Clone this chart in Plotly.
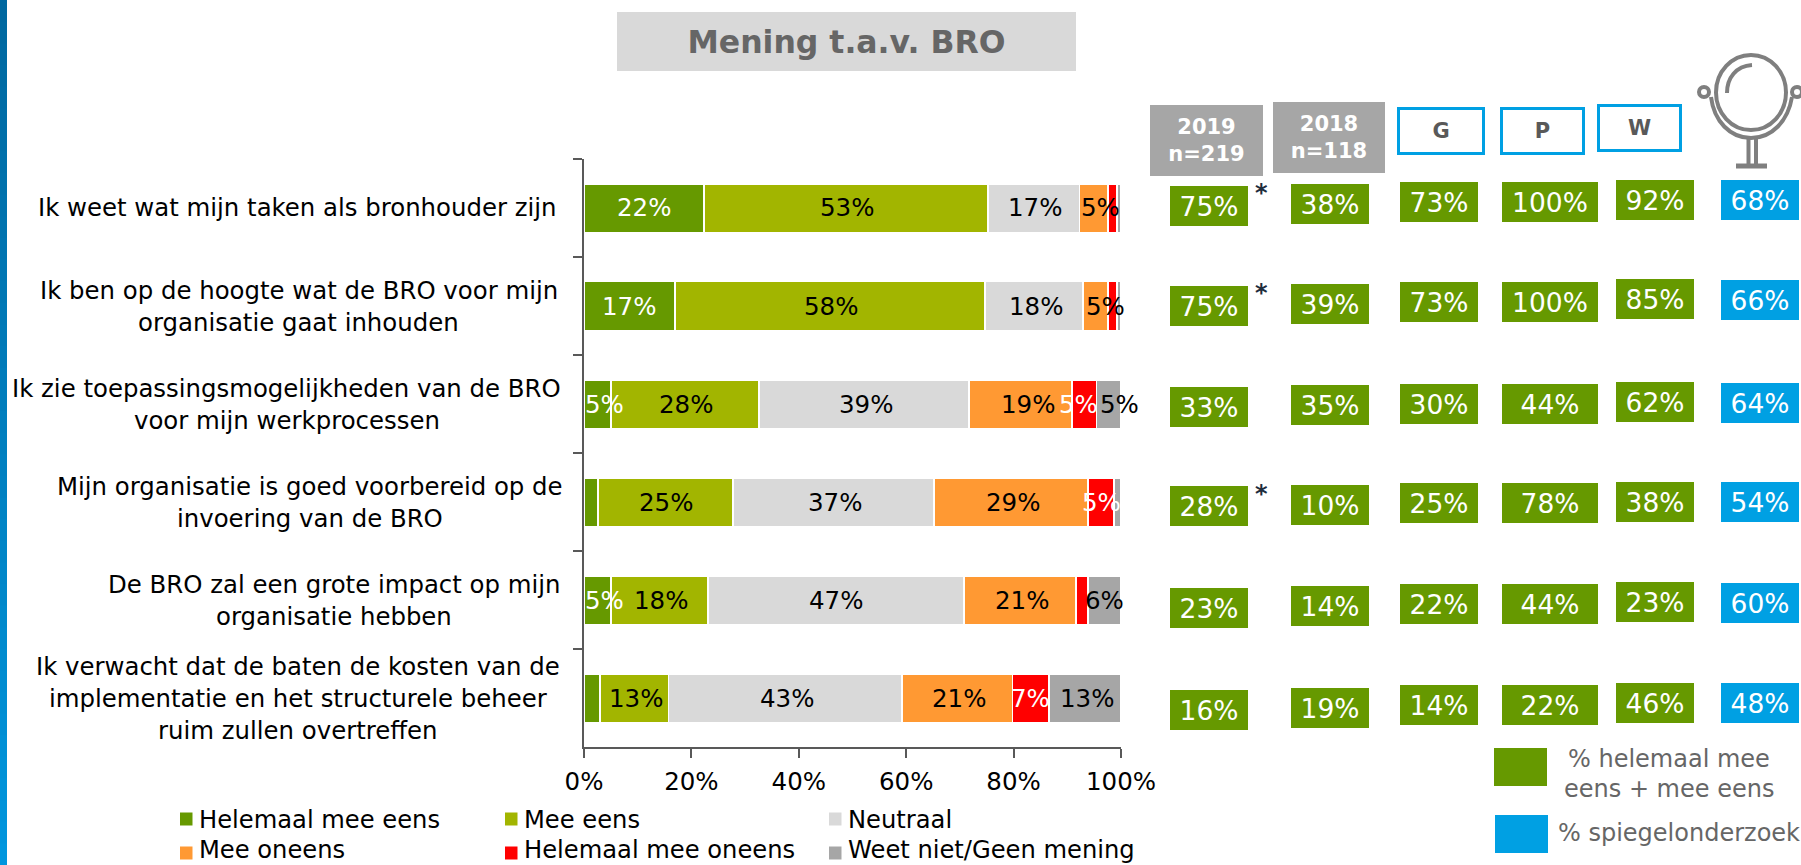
import plotly.graph_objects as go

W, H = 1801, 865
FONT = "DejaVu Sans"

title = "Mening t.a.v. BRO"
categories = [
    "Ik weet wat mijn taken als bronhouder zijn",
    "Ik ben op de hoogte wat de BRO voor mijn organisatie gaat inhouden",
    "Ik zie toepassingsmogelijkheden van de BRO voor mijn werkprocessen",
    "Mijn organisatie is goed voorbereid op de invoering van de BRO",
    "De BRO zal een grote impact op mijn organisatie hebben",
    "Ik verwacht dat de baten de kosten van de implementatie en het structurele beheer ruim zullen overtreffen",
]
category_lines = [
    ["Ik weet wat mijn taken als bronhouder zijn"],
    ["Ik ben op de hoogte wat de BRO voor mijn", "organisatie gaat inhouden"],
    ["Ik zie toepassingsmogelijkheden van de BRO", "voor mijn werkprocessen"],
    ["Mijn organisatie is goed voorbereid op de", "invoering van de BRO"],
    ["De BRO zal een grote impact op mijn", "organisatie hebben"],
    ["Ik verwacht dat de baten de kosten van de", "implementatie en het structurele beheer", "ruim zullen overtreffen"],
]
series_names = ["Helemaal mee eens", "Mee eens", "Neutraal", "Mee oneens", "Helemaal mee oneens", "Weet niet/Geen mening"]
helemaal_mee_eens = [22.3, 16.9, 5.0, 2.6, 5.0, 3.0]
mee_eens = [52.9, 57.8, 27.6, 25.1, 18.1, 12.7]
neutraal = [17.1, 18.2, 39.1, 37.5, 47.7, 43.5]
mee_oneens = [5.3, 4.7, 19.2, 28.7, 20.8, 20.6]
helemaal_mee_oneens = [1.7, 1.7, 4.5, 4.8, 2.3, 6.8]
weet_niet = [0.7, 0.7, 4.6, 1.3, 6.1, 13.4]
label_helemaal = ["22%", "17%", "5%", "", "5%", ""]
label_mee_eens = ["53%", "58%", "28%", "25%", "18%", "13%"]
label_neutraal = ["17%", "18%", "39%", "37%", "47%", "43%"]
label_oneens = ["5%", "5%", "19%", "29%", "21%", "21%"]
label_hel_oneens = ["", "", "5%", "5%", "", "7%"]
label_weet_niet = ["", "", "5%", "", "6%", "13%"]
# small sideways shift of each bar label, in axis percent, as in the reference
nudge_helemaal = [0, 0, 1.4, 0, 1.4, 0]
nudge_mee_eens = [0.2, 0.2, 0.2, 0.2, 0.2, 0.3]
nudge_neutraal = [0.3, 0.4, 0.3, 0.2, 0, 0.3]
nudge_oneens = [1.3, 1.9, 1.4, 0.3, 0.3, 0.3]
nudge_hel_oneens = [0, 0, -1.0, 0, 0, 0]
nudge_weet_niet = [0, 0, 2.0, 0, 0, 0.3]

col_2019 = ["75%", "75%", "33%", "28%", "23%", "16%"]
col_2018 = ["38%", "39%", "35%", "10%", "14%", "19%"]
col_g = ["73%", "73%", "30%", "25%", "22%", "14%"]
col_p = ["100%", "100%", "44%", "78%", "44%", "22%"]
col_w = ["92%", "85%", "62%", "38%", "23%", "46%"]
col_spiegel = ["68%", "66%", "64%", "54%", "60%", "48%"]
significant_2019 = [True, True, False, True, False, False]

GREEN, LIME, LGRAY, ORANGE, RED, DGRAY, BLUE = "#669900", "#A2B500", "#D9D9D9", "#FF9933", "#FF0000", "#A6A6A6", "#00A0E3"

def X(p): return p / W
def Y(p): return 1 - p / H

series = [
    (helemaal_mee_eens, label_helemaal, nudge_helemaal, GREEN, "white"),
    (mee_eens, label_mee_eens, nudge_mee_eens, LIME, "black"),
    (neutraal, label_neutraal, nudge_neutraal, LGRAY, "black"),
    (mee_oneens, label_oneens, nudge_oneens, ORANGE, "black"),
    (helemaal_mee_oneens, label_hel_oneens, nudge_hel_oneens, RED, "white"),
    (weet_niet, label_weet_niet, nudge_weet_niet, DGRAY, "black"),
]

fig = go.Figure()
ann, shapes = [], []
base = [0.0] * len(categories)
for name, (vals, labels, nudges, color, tcolor) in zip(series_names, series):
    fig.add_trace(go.Bar(
        y=categories, x=vals, name=name, orientation="h",
        marker=dict(color=color, line=dict(color="white", width=1.5)),
        hoverinfo="x+y+name",
    ))
    for i, (v, lab, nd) in enumerate(zip(vals, labels, nudges)):
        if lab:
            ann.append(dict(xref="x", yref="y", x=base[i] + v / 2 + nd, y=categories[i], text=lab,
                            showarrow=False, xanchor="center", yanchor="middle",
                            font=dict(family=FONT, size=24.5, color=tcolor)))
        base[i] += v

def rect(x0, y0, x1, y1, fill, layer="below"):
    shapes.append(dict(type="rect", xref="paper", yref="paper", x0=X(x0), x1=X(x1), y0=Y(y0), y1=Y(y1),
                       fillcolor=fill, line=dict(width=0), layer=layer))

def text(x, y, s, size, color="black", bold=False, anchor="center"):
    ann.append(dict(xref="paper", yref="paper", x=X(x), y=Y(y), text=f"<b>{s}</b>" if bold else s,
                    showarrow=False, xanchor=anchor, yanchor="middle",
                    font=dict(family=FONT, size=size, color=color)))

def box(cx, cy, w, h, s, size, fill, color="white", bold=False, border=None, bw=0):
    ann.append(dict(xref="paper", yref="paper", x=X(cx), y=Y(cy), text=f"<b>{s}</b>" if bold else s,
                    showarrow=False, xanchor="center", yanchor="middle", width=w, height=h, borderpad=0,
                    bgcolor=fill, bordercolor=border or fill, borderwidth=bw, align="center", valign="middle",
                    font=dict(family=FONT, size=size, color=color)))

# blue page stripe
n = 40
for i in range(n):
    t = i / (n - 1)
    c = f"rgb(0,{int(104 + t * 46)},{int(160 + t * 62)})"
    rect(0, H * i / n, 7, H * (i + 1) / n + 1, c)

# title
box(846.5, 41.5, 459, 59, title, 31.5, LGRAY, "#666666", True)

# row labels
label_cx = [297.5, 298.6, 286.6, 309.5, 334, 298]
for cat, lines, cx in zip(categories, category_lines, label_cx):
    m = len(lines)
    for j, line in enumerate(lines):
        ann.append(dict(xref="paper", yref="y", x=X(cx), y=cat, text=line, showarrow=False,
                        xanchor="center", yanchor="middle", yshift=-(j - (m - 1) / 2) * 32,
                        font=dict(family=FONT, size=24.4, color="black")))

# value columns
col_x = [1209, 1330, 1439, 1550, 1655, 1760]
col_w_px = [78, 78, 78, 96, 78, 78]
col_y = [
    [206, 204, 202, 202, 200, 200],
    [306, 304, 302, 302, 299, 300],
    [406.5, 405, 404, 404, 402, 403],
    [506.5, 505, 503, 503, 502, 502],
    [607.5, 606, 604, 604, 602, 603],
    [710, 707.5, 705, 705, 703, 703],
]
columns = [col_2019, col_2018, col_g, col_p, col_w, col_spiegel]
for c, (vals, cx, w) in enumerate(zip(columns, col_x, col_w_px)):
    for r, v in enumerate(vals):
        box(cx, col_y[r][c], w, 40, v, 26.5, BLUE if c == 5 else GREEN)

for r, sig in enumerate(significant_2019):
    if sig:
        text(1261.5, col_y[r][0] - 13, "*", 24, "#1F2D3D", True)

# headers
box(1206.5, 140.5, 113, 71, "2019<br>n=219", 21, DGRAY, "white", True)
box(1329, 137.5, 112, 71, "2018<br>n=118", 21, DGRAY, "white", True)
box(1440.5, 131, 82, 42, "G", 21, "white", "#595959", True, BLUE, 3)
box(1542.5, 131, 79, 42, "P", 21, "white", "#595959", True, BLUE, 3)
box(1639, 128, 79, 42, "W", 21, "white", "#595959", True, BLUE, 3)

# mirror icon
MC = "#7F7F7F"
def path(d, width=4):
    shapes.append(dict(type="path", xref="paper", yref="paper", path=d, line=dict(color=MC, width=width)))
def P(x, y): return f"{X(x):.5f},{Y(y):.5f}"
def oval(x0, y0, x1, y1, width=4):
    shapes.append(dict(type="circle", xref="paper", yref="paper", x0=X(x0), x1=X(x1), y0=Y(y0), y1=Y(y1),
                       line=dict(color=MC, width=width)))
oval(1716, 55, 1786, 130)
path(f"M{P(1727,93)} C{P(1727,78)} {P(1736,66)} {P(1752,65)}")
path(f"M{P(1711,97)} C{P(1714,121)} {P(1730,138)} {P(1751,138)} C{P(1772,138)} {P(1788,121)} {P(1792,97)}")
oval(1699, 87, 1709, 97)
oval(1792, 87, 1802, 97)
path(f"M{P(1748.5,138)} L{P(1748.5,164)}")
path(f"M{P(1756,138)} L{P(1756,164)}")
path(f"M{P(1736,166)} L{P(1767,166)}", 5)

# bottom legend
leg_sq_x = [180, 505, 829]
leg_text_x = [197, 522, 846]
leg_y = [820, 850]
leg_sq_y = [819, 853]
leg_colors = [GREEN, LIME, LGRAY, ORANGE, RED, DGRAY]
for i, (nm, col) in enumerate(zip(series_names, leg_colors)):
    r, c = i // 3, i % 3
    rect(leg_sq_x[c], leg_sq_y[r] - 6.5, leg_sq_x[c] + 12.5, leg_sq_y[r] + 6.5, col)
    text(leg_text_x[c], leg_y[r], nm, 24.2, "black", anchor="left")

# right legend
rect(1494, 748, 1547, 786, GREEN)
rect(1495, 815, 1548, 853, BLUE)
text(1669, 759, "% helemaal mee", 24, "#666666")
text(1669, 789, "eens + mee eens", 24, "#666666")
text(1556, 833, "% spiegelonderzoek", 24, "#666666", anchor="left")

fig.update_layout(
    width=W, height=H, barmode="stack", bargap=0.505, showlegend=False,
    plot_bgcolor="white", paper_bgcolor="white",
    margin=dict(l=0, r=0, t=0, b=0),
    annotations=ann, shapes=shapes,
    xaxis=dict(domain=[584 / W, 1121 / W], range=[0, 100], tickmode="array", automargin=False,
               tickvals=[0, 20, 40, 60, 80, 100], ticktext=["0%", "20%", "40%", "60%", "80%", "100%"],
               ticks="outside", ticklen=9, tickwidth=2, tickcolor="#595959", ticklabelstandoff=3,
               showline=True, linecolor="#595959", linewidth=2, showgrid=False, zeroline=False,
               tickfont=dict(family=FONT, size=24.5, color="black"), anchor="y"),
    yaxis=dict(domain=[1 - 747 / H, 1 - 159 / H], autorange="reversed", type="category", automargin=False,
               categoryorder="array", categoryarray=categories, tickson="boundaries",
               ticks="outside", ticklen=9, tickwidth=2, tickcolor="#595959",
               showline=True, linecolor="#595959", linewidth=2, showgrid=False, zeroline=False,
               showticklabels=False, anchor="x"),
)

fig.write_html("out.html", config=dict(displayModeBar=False),
               post_script="document.body.style.margin='0';document.body.style.overflow='hidden';")
